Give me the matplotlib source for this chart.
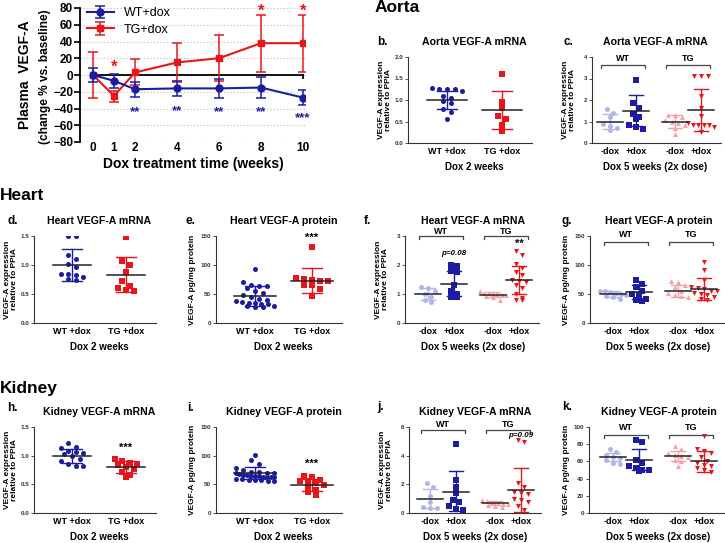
import numpy as np
import matplotlib
matplotlib.use('Agg')
import matplotlib.pyplot as plt

plt.rcParams['font.family'] = ['Liberation Sans', 'DejaVu Sans']
plt.rcParams['font.weight'] = 'bold'

BLUE = '#1c1ca0'
RED = '#e8161b'
LBLUE = '#b3b5e8'
LPINK = '#f4a3a6'

# ---- panel a: plasma VEGF-A time course ----
weeks = [0, 1, 2, 4, 6, 8, 10]
wt_mean = [0, -7, -17, -16, -16, -15, -27]
wt_lo = [-8, -15, -26, -25, -27, -28, -36]
wt_hi = [8, 1, -8, -7, -5, -2, -18]
tg_mean = [0, -25, 3, 15, 20, 38, 38]
tg_lo = [-27, -32, -12, -8, -7, 4, 3]
tg_hi = [27, -19, 19, 38, 48, 72, 72]
tg_star_x = [1, 8, 10]
tg_star_y = [9, 76, 76]
wt_star_x = [2, 4, 6, 8, 10]
wt_star_y = [-44, -43, -44, -44, -52]
wt_star_txt = ['**', '**', '**', '**', '***']

# ---- dot plots (values per animal), stats = mean, lower, upper ----
aorta2_wt = [1.27, 1.26, 1.25, 1.25, 1.2, 1.1, 1.05, 0.97, 0.92, 0.8, 0.72, 0.56]
aorta2_tg = [1.61, 0.96, 0.82, 0.63, 0.55, 0.43, 0.28]
aorta2_stats = [(1.0, 0.78, 1.22), (0.76, 0.32, 1.2)]

aorta5 = [[1.6, 1.4, 1.2, 0.9, 0.8, 0.7, 0.6],
          [2.95, 1.85, 1.65, 1.35, 1.2, 1.1, 0.85, 0.75, 0.65],
          [1.3, 1.28, 1.2, 1.05, 1.0, 0.95, 0.85, 0.7, 0.4],
          [3.1, 3.1, 3.1, 2.2, 1.65, 1.25, 0.95, 0.85, 0.85, 0.85, 0.85, 0.75, 0.5]]
aorta5_stats = [(1.0, 0.65, 1.35), (1.5, 0.77, 2.23), (0.98, 0.7, 1.28), (1.53, 0.55, 2.5)]

heart2_wt = [1.5, 1.5, 1.17, 1.1, 1.02, 0.97, 0.85, 0.84, 0.82, 0.8, 0.76, 0.75]
heart2_tg = [1.48, 1.07, 1.0, 0.88, 0.72, 0.64, 0.6, 0.57, 0.56]
heart2_stats = [(1.0, 0.73, 1.27), (0.83, 0.53, 1.14)]

heart2p_wt = [93, 71, 66, 64, 63, 60, 55, 52, 48, 45, 42, 40, 38, 36, 35, 35,
              33, 32, 30, 29, 28, 27]
heart2p_tg = [131, 77, 76, 75, 72, 72, 66, 65, 58, 47]
heart2p_stats = [(47, 30, 64), (73, 51, 95)]

heart5 = [[1.25, 1.2, 1.1, 1.0, 0.9, 0.8, 0.72],
          [2.0, 1.95, 1.8, 1.75, 1.3, 1.1, 1.0, 0.9, 0.88],
          [1.1, 1.05, 1.05, 1.0, 1.0, 0.97, 0.95, 0.92, 0.88, 0.8],
          [2.5, 2.35, 2.05, 1.9, 1.75, 1.65, 1.5, 1.45, 1.4, 1.3, 1.2, 1.0, 0.85, 0.8, 0.8]]
heart5_stats = [(1.0, 0.78, 1.22), (1.35, 0.92, 1.78), (0.98, 0.9, 1.06), (1.48, 1.0, 1.95)]

heart5p = [[56, 55, 54, 52, 50, 48, 46, 45, 42],
           [75, 67, 62, 55, 50, 48, 42, 40, 38],
           [72, 70, 65, 62, 55, 52, 48, 46, 45],
           [106, 92, 75, 62, 60, 58, 56, 55, 52, 50, 48, 45, 42, 40]]
heart5p_stats = [(50, 45, 55), (53, 42, 65), (55, 45, 65), (59, 40, 77)]

kidney2_wt = [1.22, 1.15, 1.13, 1.08, 1.06, 1.05, 1.03, 1.0, 0.95, 0.9, 0.85, 0.82, 0.82]
kidney2_tg = [0.94, 0.9, 0.88, 0.86, 0.84, 0.8, 0.76, 0.72, 0.66, 0.62]
kidney2_stats = [(1.0, 0.88, 1.12), (0.8, 0.7, 0.9)]

kidney2p_wt = [102, 92, 85, 78, 75, 72, 72, 70, 70, 69, 68, 67, 66, 65, 65, 64,
               63, 62, 62, 62, 60, 60, 58, 58, 57, 56, 55]
kidney2p_tg = [64, 62, 58, 55, 55, 52, 48, 45, 40, 36, 32]
kidney2p_stats = [(70, 59, 81), (49, 39, 59)]

kidney5 = [[2.1, 1.8, 1.2, 0.8, 0.4, 0.35, 0.35],
           [4.8, 2.3, 1.8, 1.4, 0.9, 0.8, 0.5, 0.3, 0.2],
           [0.9, 0.85, 0.8, 0.7, 0.65, 0.6, 0.55, 0.5, 0.45],
           [5.1, 4.95, 2.1, 1.8, 1.5, 1.4, 1.3, 1.0, 0.9, 0.8, 0.5, 0.2]]
kidney5_stats = [(1.0, 0.35, 1.65), (1.5, 0.12, 2.9), (0.7, 0.55, 0.85), (1.63, 0.1, 3.15)]

kidney5p = [[75, 71, 68, 65, 64, 62, 58, 57],
            [85, 82, 62, 58, 55, 52, 50, 50, 49],
            [78, 74, 70, 68, 66, 65, 62, 60, 55],
            [90, 74, 72, 70, 65, 60, 58, 56, 55, 52, 50, 48]]
kidney5p_stats = [(65, 60, 70), (61.5, 50, 74), (66, 60, 72), (60, 48, 72)]

labels2 = ['WT +dox', 'TG +dox']
labels4 = ['-dox', '+dox', '-dox', '+dox']
pos2 = [0, 1]
pos4 = [0, 1, 2.5, 3.5]

W, H = 725, 543
fig = plt.figure(figsize=(W / 100, H / 100), dpi=100)


def add_ax(l, t, r, b):
    return fig.add_axes([l / W, 1 - b / H, (r - l) / W, (b - t) / H])


def ftext(x, y, s, **kw):
    fig.text(x / W, 1 - y / H, s, **kw)


def swarm(vals, tol, step, maxw):
    # spread points of similar value side by side (no randomness)
    v = np.asarray(vals, float)
    order = np.argsort(-v)
    offs = np.zeros(len(v))
    i = 0
    while i < len(order):
        j = i
        while j + 1 < len(order) and v[order[i]] - v[order[j + 1]] <= tol:
            j += 1
        n = j - i + 1
        st = step if n < 2 else min(step, 2 * maxw / (n - 1))
        offs[order[i:j + 1]] = (np.arange(n) - (n - 1) / 2) * st
        i = j + 1
    return offs


def dot_panel(l, t, b, x0, unit, pos, data, stats, markers, colors, ecolors,
              ymax, yticks, fmt, title, letter, lx, ly, ylab, xlab, xlabels):
    r = x0 + unit * pos[-1] + (30 if len(pos) == 2 else 20)
    ax = add_ax(l, t, r, b)
    ax.set_xlim((l - x0) / unit, (r - x0) / unit)
    ax.set_ylim(0, ymax)
    two = len(pos) == 2
    half = 0.36 if two else 0.5
    cap = 0.18 if two else 0.27
    step = 0.14 if two else 0.26
    for p, vals, st, mk, c, ec in zip(pos, data, stats, markers, colors, ecolors):
        offs = swarm(vals, ymax * 0.055, step, 0.34 if two else 0.5)
        ax.scatter(p + offs, vals, marker=mk, s=13, color=c, linewidths=0, zorder=3)
        m, lo, hi = st
        ax.plot([p, p], [lo, hi], color=ec, lw=1.0, zorder=2)
        ax.plot([p - cap, p + cap], [lo, lo], color=ec, lw=1.0, zorder=2)
        ax.plot([p - cap, p + cap], [hi, hi], color=ec, lw=1.0, zorder=2)
        ax.plot([p - half, p + half], [m, m], color='#222222', lw=1.1, zorder=4)
    for s in ['top', 'right']:
        ax.spines[s].set_visible(False)
    for s in ['left', 'bottom']:
        ax.spines[s].set_linewidth(0.8)
        ax.spines[s].set_color('#333333')
    ax.set_yticks(yticks)
    ax.set_yticklabels([fmt.format(v) for v in yticks])
    ax.tick_params(axis='y', length=2, width=0.6, labelsize=4.5, pad=1.5,
                   colors='#333333')
    ax.set_xticks(pos)
    ax.set_xticklabels(xlabels)
    ax.tick_params(axis='x', length=0, labelsize=6.5, pad=3)
    cx = x0 + unit * (pos[0] + pos[-1]) / 2
    ftext(cx, t - 15, title, fontsize=7.6, ha='center', va='center')
    ftext(cx, b + 24, xlab, fontsize=7, ha='center', va='center')
    ftext(lx, ly, letter, fontsize=8.5, ha='left', va='center')
    ftext(l - 23, (t + b) / 2, ylab, fontsize=6, rotation=90, ha='center',
          va='center', linespacing=1.15)
    return ax


def brackets(ax, ymid, ytick, ylab):
    for a, b_, name in [(-0.35, 1.35, 'WT'), (2.15, 3.85, 'TG')]:
        ax.plot([a, a, b_, b_], [ytick, ymid, ymid, ytick], color='#444444',
                lw=0.9, clip_on=False)
        ax.text((a + b_) / 2, ylab, name, fontsize=6.5, ha='center',
                va='center', clip_on=False)


expr = 'VEGF-A expression\nrelative to PPIA'
prot = 'VEGF-A pg/mg protein'
m2 = ['o', 's']
c2 = [BLUE, RED]
m4 = ['o', 's', '^', 'v']
c4 = [LBLUE, BLUE, LPINK, RED]

# ---- panel a ----
ax = add_ax(80, 8, 305, 142)
ax.set_xlim((80 - 93) / 21, (305 - 93) / 21)
ax.set_ylim(-80, 80)
ax.plot([weeks[0], weeks[-1]], [0, 0], color='black', lw=1.3, zorder=1)
ax.plot([weeks[-1], weeks[-1]], [0, -3], color='black', lw=1.3, zorder=1)
tg_err = [np.subtract(tg_mean, tg_lo), np.subtract(tg_hi, tg_mean)]
wt_err = [np.subtract(wt_mean, wt_lo), np.subtract(wt_hi, wt_mean)]
h_tg = ax.errorbar(weeks, tg_mean, yerr=tg_err, color=RED, marker='s', ms=5,
                   lw=1.5, elinewidth=1.1, capsize=3.5, capthick=1.1, zorder=3)
h_wt = ax.errorbar(weeks, wt_mean, yerr=wt_err, color=BLUE, marker='o', ms=5,
                   lw=1.5, elinewidth=1.1, capsize=3.5, capthick=1.1, zorder=4)
for x, y in zip(tg_star_x, tg_star_y):
    ax.text(x, y, '*', color=RED, fontsize=12, ha='center', va='center', clip_on=False)
for x, y, s in zip(wt_star_x, wt_star_y, wt_star_txt):
    ax.text(x, y, s, color=BLUE, fontsize=9.5, ha='center', va='center')
ax.set_yticks(range(-80, 81, 20))
ax.yaxis.grid(True, linestyle=(0, (1, 2)), color='#bbbbbb', lw=0.8)
ax.set_axisbelow(True)
ax.set_xticks(weeks)
for s in ['top', 'right', 'bottom']:
    ax.spines[s].set_visible(False)
ax.spines['left'].set_linewidth(1.3)
ax.tick_params(axis='y', length=4, width=1.2, labelsize=8.5, pad=1)
ax.tick_params(axis='x', length=0, labelsize=8.5, pad=0)
leg = ax.legend([h_wt, h_tg], ['WT+dox', 'TG+dox'], loc='upper left',
                bbox_to_anchor=(-0.01, 1.07), frameon=False,
                prop={'size': 9, 'weight': 'normal'}, handlelength=2.2,
                labelspacing=0.35, borderpad=0.2)
ftext(193, 164, 'Dox treatment time (weeks)', fontsize=10, ha='center', va='center')
ftext(25, 75, 'Plasma  VEGF-A', fontsize=10, rotation=90, ha='center', va='center')
ftext(45, 77, '(change % vs. baseline)', fontsize=8.6, rotation=90, ha='center', va='center')

# ---- section headers ----
ftext(375, 8, 'Aorta', fontsize=12.5, ha='left', va='center')
ftext(0, 196, 'Heart', fontsize=12.5, ha='left', va='center')
ftext(0, 388, 'Kidney', fontsize=12.5, ha='left', va='center')

# ---- row 1 ----
dot_panel(408, 57, 143, 447, 55, pos2, [aorta2_wt, aorta2_tg], aorta2_stats,
          m2, c2, c2, 2.0, [0, 0.5, 1.0, 1.5, 2.0], '{:.1f}',
          'Aorta VEGF-A mRNA', 'b.', 377, 42, expr, 'Dox 2 weeks', labels2)
ax = dot_panel(592, 57, 143, 610, 26, pos4, aorta5, aorta5_stats, m4, c4, c4,
               4, [0, 1, 2, 3, 4], '{:.0f}', 'Aorta VEGF-A mRNA', 'c.', 564, 42,
               expr, 'Dox 5 weeks (2x dose)', labels4)
brackets(ax, 3.63, 3.48, 3.92)

# ---- row 2 ----
dot_panel(34, 236, 323, 72, 54, pos2, [heart2_wt, heart2_tg], heart2_stats,
          m2, c2, c2, 1.5, [0, 0.5, 1.0, 1.5], '{:.1f}',
          'Heart VEGF-A mRNA', 'd.', 7, 221, expr, 'Dox 2 weeks', labels2)
ax = dot_panel(216, 236, 323, 255, 57, pos2, [heart2p_wt, heart2p_tg], heart2p_stats,
               m2, c2, c2, 150, [0, 50, 100, 150], '{:.0f}',
               'Heart VEGF-A protein', 'e.', 186, 221, prot, 'Dox 2 weeks', labels2)
ax.text(1, 146, '***', fontsize=8, ha='center', va='center', clip_on=False)
ax = dot_panel(405, 236, 323, 428, 26, pos4, heart5, heart5_stats, m4, c4, c4,
               3, [0, 1, 2, 3], '{:.0f}', 'Heart VEGF-A mRNA', 'f.', 364, 221,
               expr, 'Dox 5 weeks (2x dose)', labels4)
brackets(ax, 3.0, 2.88, 3.17)
ax.text(1, 2.38, 'p=0.08', fontsize=5.8, style='italic', ha='center', va='center')
ax.text(3.5, 2.72, '**', fontsize=8, ha='center', va='center')
ax = dot_panel(590, 236, 323, 613, 26, pos4, heart5p, heart5p_stats, m4, c4, c4,
               150, [0, 50, 100, 150], '{:.0f}', 'Heart VEGF-A protein', 'g.', 562, 221,
               prot, 'Dox 5 weeks (2x dose)', labels4)
brackets(ax, 140, 134, 152)

# ---- row 3 ----
ax = dot_panel(34, 427, 513, 72, 54, pos2, [kidney2_wt, kidney2_tg], kidney2_stats,
               m2, c2, c2, 1.5, [0, 0.5, 1.0, 1.5], '{:.1f}',
               'Kidney VEGF-A mRNA', 'h.', 7, 408, expr, 'Dox 2 weeks', labels2)
ax.text(1, 1.13, '***', fontsize=8, ha='center', va='center')
ax = dot_panel(216, 427, 513, 255, 57, pos2, [kidney2p_wt, kidney2p_tg], kidney2p_stats,
               m2, c2, c2, 150, [0, 50, 100, 150], '{:.0f}',
               'Kidney VEGF-A protein', 'i.', 187, 408, prot, 'Dox 2 weeks', labels2)
ax.text(1, 85, '***', fontsize=8, ha='center', va='center')
ax = dot_panel(409, 427, 513, 430, 26, pos4, kidney5, kidney5_stats, m4, c4, c4,
               6, [0, 2, 4, 6], '{:.0f}', 'Kidney VEGF-A mRNA', 'j.', 377, 407,
               expr, 'Dox 5 weeks (2x dose)', labels4)
brackets(ax, 5.8, 5.58, 6.2)
ax.text(3.5, 5.42, 'p=0.09', fontsize=5.8, style='italic', ha='center', va='center')
ax = dot_panel(589, 427, 513, 613, 26, pos4, kidney5p, kidney5p_stats, m4, c4, c4,
               100, [0, 20, 40, 60, 80, 100], '{:.0f}', 'Kidney VEGF-A protein', 'k.',
               562, 407, prot, 'Dox 5 weeks (2x dose)', labels4)
brackets(ax, 90.7, 87, 99)

fig.savefig('out.png', dpi=100)
